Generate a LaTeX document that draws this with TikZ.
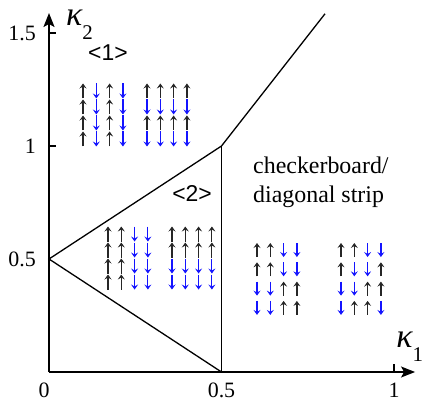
\documentclass[tikz,border=0pt]{standalone}
\usepackage{fontspec}
\setmainfont{Liberation Serif}
\newfontfamily\phasefont{Liberation Sans}
\usetikzlibrary{arrows.meta}
\definecolor{spinblue}{RGB}{20,20,255}

\tikzset{
  boundary/.style={line width=1.3bp},
  axis/.style={line width=1.5bp,-{Stealth[length=14bp,width=11bp,inset=3bp]}},
  spinup/.style={line width=1.2bp,black!85,-{Stealth[length=5bp,width=7bp,inset=2bp]}},
  spindown/.style={spinup,spinblue},
  ticklabel/.style={inner sep=0pt,font=\fontsize{22}{22}\selectfont},
  phaselabel/.style={inner sep=0pt,font=\phasefont\fontsize{23}{23}\selectfont},
  note/.style={inner sep=0pt,anchor=base west,font=\fontsize{24}{30}\selectfont},
  axislabel/.style={inner sep=0pt,anchor=base west,font=\itshape\fontsize{34}{34}\selectfont},
}

% kappa with a large lowered index
\newcommand{\kapsub}[1]{κ\raisebox{-14bp}{\upshape\fontsize{21}{21}\selectfont #1}}

% #1 centre of top-left spin, #2 row pitch (bp), #3 half length (bp), #4 rows (1 = up, -1 = down)
\newcommand{\spingrid}[4]{%
  \begin{scope}[shift={#1},x=13.3bp,y=-#2bp]
    \foreach \rw [count=\ri from 0] in {#4}
      \foreach \sp [count=\ci from 0] in \rw {
        \ifnum\sp>0
          \draw[spinup] (\ci,\ri) ++(0,-#3bp) -- ++(0,2*#3bp);
        \else
          \draw[spindown] (\ci,\ri) ++(0,#3bp) -- ++(0,-2*#3bp);
        \fi
      }
  \end{scope}}

\begin{document}
\begin{tikzpicture}[x=345bp,y=226bp]
  \useasboundingbox (-0.14203,-0.14159) rectangle (1.10145,1.64602);
  % axes
  \coordinate (o) at (0,0);
  \coordinate (xend) at (1.061,0);
  \coordinate (yend) at (0,1.5885);
  \draw[axis] (o) -- (xend);
  \draw[axis] (o) -- (yend);
  \foreach \v in {1,1.5} \draw[boundary] (0,\v) -- ++(7bp,0);
  \draw[boundary] (1,0) -- ++(0,8bp);
  \node[ticklabel,below=11bp] (x0) at (-0.014,0) {0};
  \node[ticklabel,below=11bp] (x05) at (0.5,0) {0.5};
  \node[ticklabel,below=11bp] (x1) at (1,0) {1};
  \node[ticklabel,left=13bp] (y05) at (0,0.5) {0.5};
  \node[ticklabel,left=13bp] (y1) at (0,1) {1};
  \node[ticklabel,left=13bp] (y15) at (0,1.5) {1.5};
  \node[axislabel] (k1) at (1.006,0.1106) {\kapsub{1}};
  \node[axislabel] (k2) at (0.049,1.531) {\kapsub{2}};
  % phase boundaries
  \coordinate (a) at (0,0.5);
  \coordinate (b) at (0.5,1);
  \coordinate (c) at (0.5,0);
  \coordinate (d) at (0.8,1.585);
  \draw[boundary] (c) -- (a) -- (b) -- (d);
  \draw[boundary] (c) -- (b);
  % phase names
  \node[phaselabel] (p1) at (0.171,1.4115) {<1>};
  \node[phaselabel] (p2) at (0.4145,0.792) {<2>};
  \node[note] (cb) at (0.5913,0.8805) {checkerboard/};
  \node[note] (ds) at (0.5913,0.7478) {diagonal strip};
  % spin configurations
  \spingrid{(0.0986,1.2434)}{16}{7.5}{{1,-1,1,-1},{1,-1,1,-1},{1,-1,1,-1},{1,-1,1,-1}}
  \spingrid{(0.2841,1.2434)}{16}{7.5}{{1,1,1,1},{-1,-1,-1,-1},{1,1,1,1},{-1,-1,-1,-1}}
  \spingrid{(0.1710,0.6106)}{16}{7.5}{{1,1,-1,-1},{1,1,-1,-1},{1,1,-1,-1},{1,1,-1,-1}}
  \spingrid{(0.3565,0.6106)}{16}{7.5}{{1,1,1,1},{1,1,1,1},{-1,-1,-1,-1},{-1,-1,-1,-1}}
  \spingrid{(0.6029,0.5398)}{19.3}{7}{{1,1,-1,-1},{1,1,-1,-1},{-1,-1,1,1},{-1,-1,1,1}}
  \spingrid{(0.8464,0.5398)}{19.3}{7}{{1,1,-1,-1},{1,-1,-1,1},{-1,-1,1,1},{-1,1,1,-1}}
\end{tikzpicture}
\end{document}
